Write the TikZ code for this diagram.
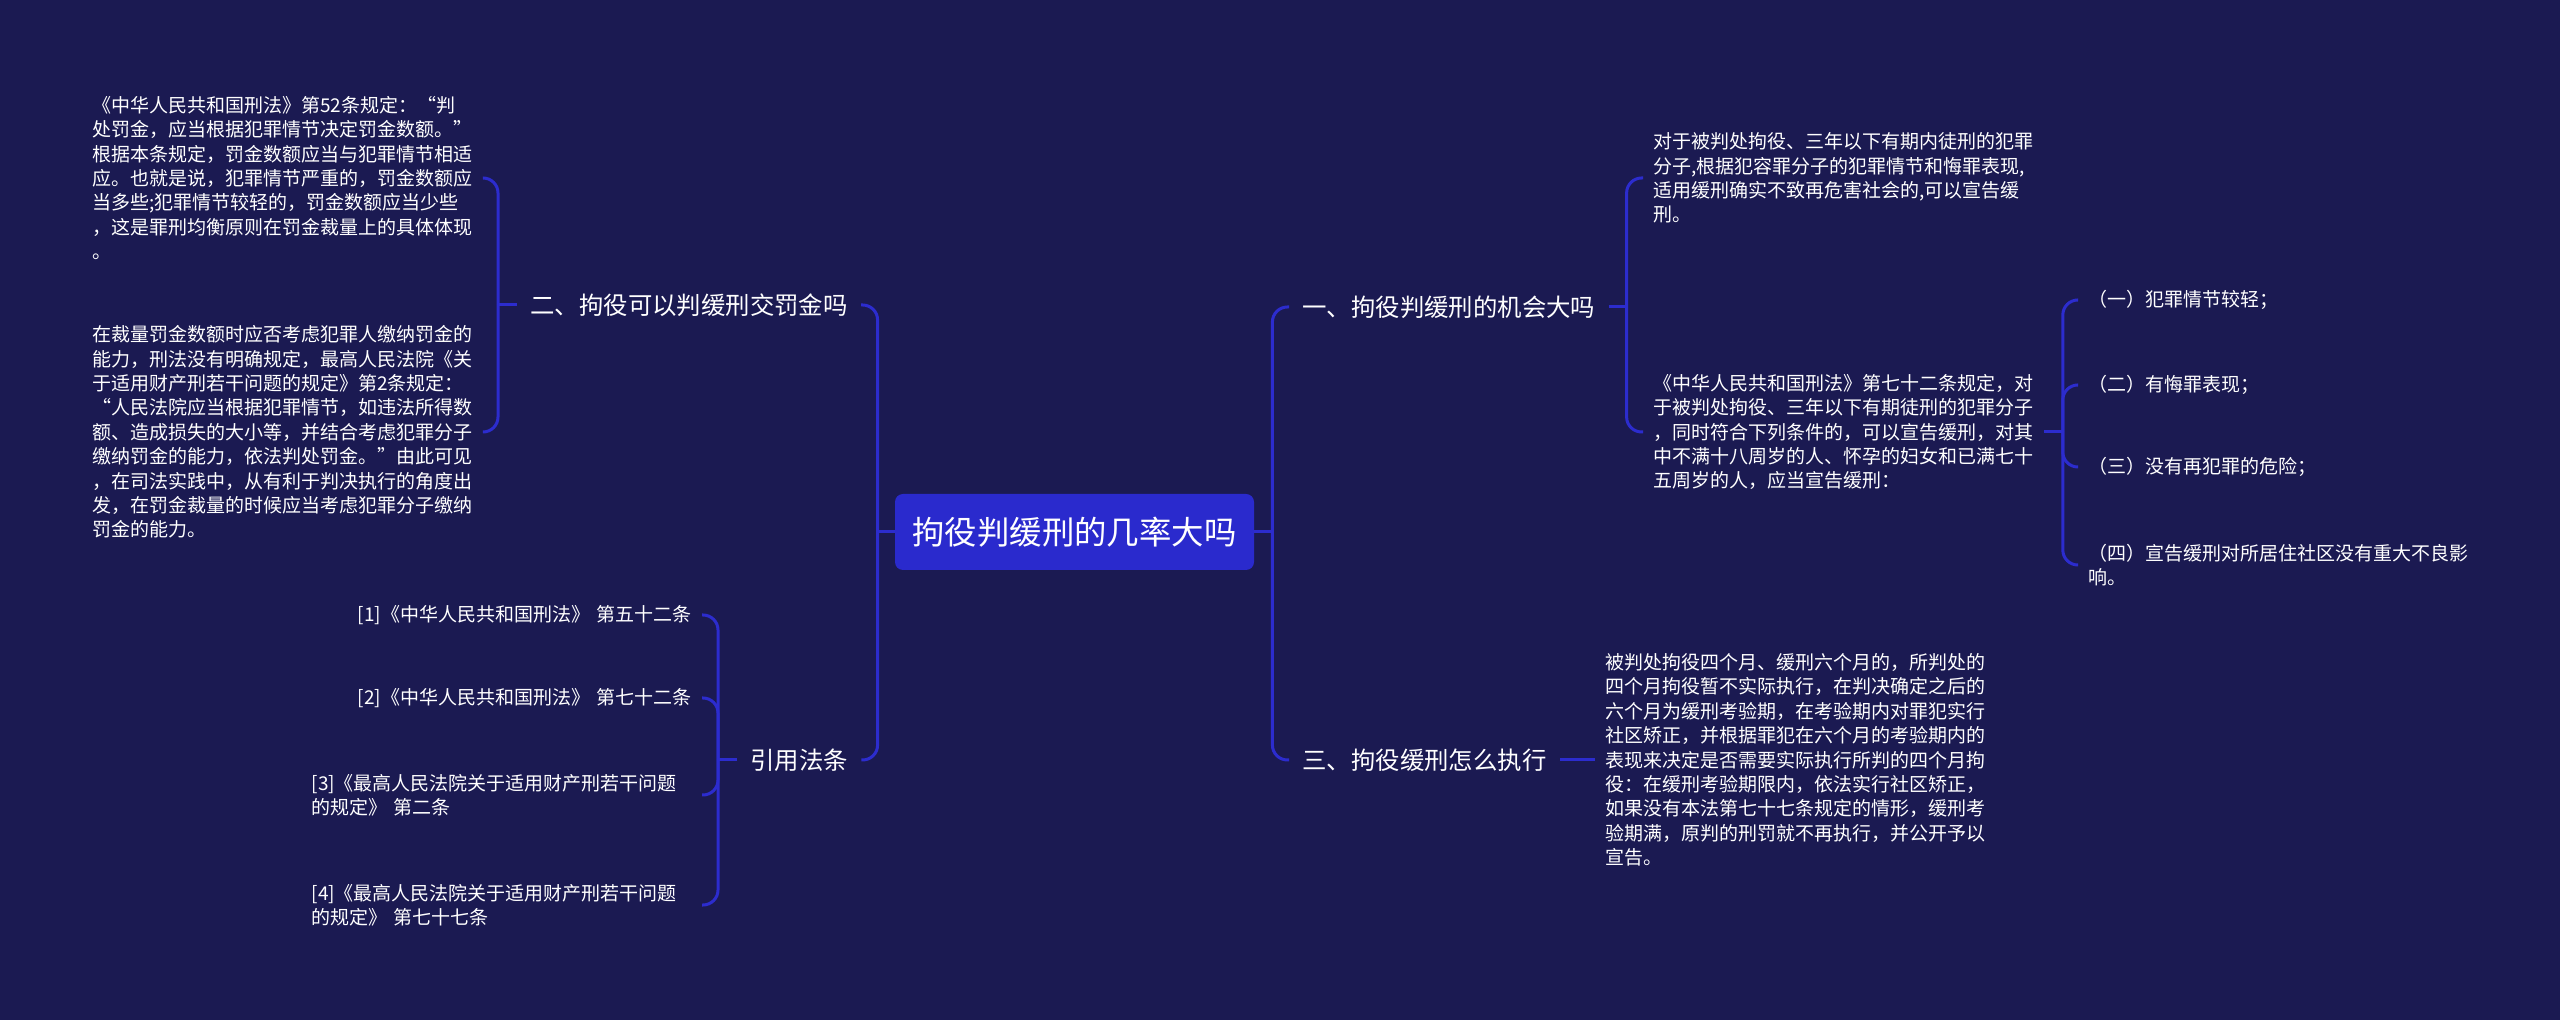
\documentclass[tikz,border=0pt]{standalone}
\usepackage{fontspec}
\usepackage{xcolor}
\usepackage{tikz}
\usetikzlibrary{calc,
                positioning}
\newfontfamily\cjk{Noto Sans CJK SC}
\definecolor{bgnavy}{RGB}{27,26,82}
\definecolor{linkblue}{RGB}{44,44,206}
\definecolor{rootblue}{RGB}{42,42,205}

\tikzset{
  rootbox/.style={fill=rootblue, rounded corners=4pt, text=white,
                  font=\cjk\fontsize{16.2pt}{19pt}\selectfont,
                  minimum width=179.5pt, minimum height=38pt, inner sep=0pt},
  topic/.style={text=white, font=\cjk\fontsize{12.2pt}{15pt}\selectfont,
                inner xsep=6.5pt, inner ysep=3pt},
  leaf/.style={text=white, font=\cjk\fontsize{9.5pt}{12.2pt}\selectfont,
               text width=190pt, align=left, inner xsep=5pt, inner ysep=2pt},
  link/.style={draw=linkblue, line width=1.5pt, rounded corners=7.5pt}
}

\begin{document}
\begin{tikzpicture}[x=0.5pt,y=-0.5pt]
\fill[bgnavy] (0,0) rectangle (2560,1020);
\useasboundingbox (0,0) rectangle (2560,1020);

\node[rootbox] (root) at (1074.5,532) {拘役判缓刑的几率大吗};

\node[topic,anchor=west] (t2) at (517,305) {二、拘役可以判缓刑交罚金吗};
\node[topic,anchor=west] (refs) at (737,760) {引用法条};
\node[topic,anchor=west] (t1) at (1289,307) {一、拘役判缓刑的机会大吗};
\node[topic,anchor=west] (t3) at (1289,760) {三、拘役缓刑怎么执行};

\node[leaf,anchor=west] (l21) at (82,178) {《中华人民共和国刑法》第52条规定：“判\\处罚金，应当根据犯罪情节决定罚金数额。”\\根据本条规定，罚金数额应当与犯罪情节相适\\应。也就是说，犯罪情节严重的，罚金数额应\\当多些;犯罪情节较轻的，罚金数额应当少些\\，这是罪刑均衡原则在罚金裁量上的具体体现\\。};
\node[leaf,anchor=west] (l22) at (82,432) {在裁量罚金数额时应否考虑犯罪人缴纳罚金的\\能力，刑法没有明确规定，最高人民法院《关\\于适用财产刑若干问题的规定》第2条规定：\\“人民法院应当根据犯罪情节，如违法所得数\\额、造成损失的大小等，并结合考虑犯罪分子\\缴纳罚金的能力，依法判处罚金。”由此可见\\，在司法实践中，从有利于判决执行的角度出\\发，在罚金裁量的时候应当考虑犯罪分子缴纳\\罚金的能力。};

\node[leaf,anchor=east,align=right] (r1) at (702,615) {[1]《中华人民共和国刑法》 第五十二条};
\node[leaf,anchor=east,align=right] (r2) at (702,698) {[2]《中华人民共和国刑法》 第七十二条};
\node[leaf,anchor=east] (r3) at (702,795) {[3]《最高人民法院关于适用财产刑若干问题\\的规定》 第二条};
\node[leaf,anchor=east] (r4) at (702,905) {[4]《最高人民法院关于适用财产刑若干问题\\的规定》 第七十七条};

\node[leaf,anchor=west] (l11) at (1643,178) {对于被判处拘役、三年以下有期内徒刑的犯罪\\分子,根据犯容罪分子的犯罪情节和悔罪表现,\\适用缓刑确实不致再危害社会的,可以宣告缓\\刑。};
\node[leaf,anchor=west] (l12) at (1643,432) {《中华人民共和国刑法》第七十二条规定，对\\于被判处拘役、三年以下有期徒刑的犯罪分子\\，同时符合下列条件的，可以宣告缓刑，对其\\中不满十八周岁的人、怀孕的妇女和已满七十\\五周岁的人，应当宣告缓刑：};

\node[leaf,anchor=west] (c1) at (2078,300) {（一）犯罪情节较轻；};
\node[leaf,anchor=west] (c2) at (2078,385) {（二）有悔罪表现；};
\node[leaf,anchor=west] (c3) at (2078,467) {（三）没有再犯罪的危险；};
\node[leaf,anchor=west] (c4) at (2078,565) {（四）宣告缓刑对所居住社区没有重大不良影\\响。};

\node[leaf,anchor=west] (l31) at (1595,760) {被判处拘役四个月、缓刑六个月的，所判处的\\四个月拘役暂不实际执行，在判决确定之后的\\六个月为缓刑考验期，在考验期内对罪犯实行\\社区矫正，并根据罪犯在六个月的考验期内的\\表现来决定是否需要实际执行所判的四个月拘\\役：在缓刑考验期限内，依法实行社区矫正，\\如果没有本法第七十七条规定的情形，缓刑考\\验期满，原判的刑罚就不再执行，并公开予以\\宣告。};

\coordinate (jl) at ($(root.west)+(-17,0)$);
\coordinate (jr) at ($(root.east)+(18,0)$);
\coordinate (j2) at ($(t2.west)+(-19,0)$);
\coordinate (jf) at ($(refs.west)+(-19,0)$);
\coordinate (j1) at ($(t1.east)+(18,0)$);
\coordinate (j12) at ($(l12.east)+(19,0)$);

\draw[link] (root.west) -- (jl);
\foreach \c in {t2,refs}
  \draw[link] (jl) |- (\c.east);
\draw[link] (root.east) -- (jr);
\foreach \c in {t1,t3}
  \draw[link] (jr) |- (\c.west);

\draw[link] (t2.west) -- (j2);
\foreach \c in {l21,l22}
  \draw[link] (j2) |- (\c.east);
\draw[link] (refs.west) -- (jf);
\foreach \c in {r1,r2,r3,r4}
  \draw[link] (jf) |- (\c.east);

\draw[link] (t1.east) -- (j1);
\foreach \c in {l11,l12}
  \draw[link] (j1) |- (\c.west);
\draw[link] (l12.east) -- (j12);
\foreach \c in {c1,c2,c3,c4}
  \draw[link] (j12) |- (\c.west);
\draw[link] (t3.east) -- (l31.west);
\end{tikzpicture}
\end{document}
